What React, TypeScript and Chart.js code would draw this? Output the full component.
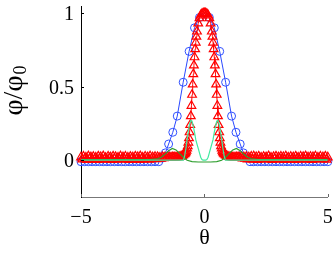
import React, { useEffect, useRef } from "react";
import { Chart, registerables } from "chart.js";

Chart.register(...registerables);

// ---- data ----
const xTicks = [-5, 0, 5];
const yTicks = [0, 0.5, 1];

const blueTheta = [
  -5, -4.85, -4.7, -4.55, -4.4, -4.25, -4.1, -3.95, -3.8, -3.65, -3.5, -3.35, -3.2, -3.05, -2.9, -2.75, -2.6, -2.45, -2.3, -2.15, -2.0, -1.85,
  -1.7, -1.58, -1.45, -1.28, -1.1, -0.86, -0.62, -0.4, -0.2, 0,
  0.2, 0.4, 0.62, 0.86, 1.1, 1.28, 1.45, 1.58, 1.7,
  1.85, 2.0, 2.15, 2.3, 2.45, 2.6, 2.75, 2.9, 3.05, 3.2, 3.35, 3.5, 3.65, 3.8, 3.95, 4.1, 4.25, 4.4, 4.55, 4.7, 4.85, 5,
];
const bluePhi = [
  -0.01, -0.01, -0.01, -0.01, -0.01, -0.01, -0.01, -0.01, -0.01, -0.01, -0.01, -0.01, -0.01, -0.01, -0.01, -0.01, -0.01, -0.01, -0.01, -0.01, -0.01, -0.01,
  0.015, 0.05, 0.11, 0.19, 0.3, 0.53, 0.74, 0.9, 0.97, 1.0,
  0.97, 0.9, 0.74, 0.53, 0.3, 0.19, 0.11, 0.05, 0.015,
  -0.01, -0.01, -0.01, -0.01, -0.01, -0.01, -0.01, -0.01, -0.01, -0.01, -0.01, -0.01, -0.01, -0.01, -0.01, -0.01, -0.01, -0.01, -0.01, -0.01, -0.01, -0.01,
];

const redTheta = [
  -5, -4.95, -4.9, -4.85, -4.8, -4.75, -4.7, -4.65, -4.6, -4.55,
  -4.5, -4.45, -4.4, -4.35, -4.3, -4.25, -4.2, -4.15, -4.1, -4.05,
  -4, -3.95, -3.9, -3.85, -3.8, -3.75, -3.7, -3.65, -3.6, -3.55,
  -3.5, -3.45, -3.4, -3.35, -3.3, -3.25, -3.2, -3.15, -3.1, -3.05,
  -3, -2.95, -2.9, -2.85, -2.8, -2.75, -2.7, -2.65, -2.6, -2.55,
  -2.5, -2.45, -2.4, -2.35, -2.3, -2.25, -2.2, -2.15, -2.1, -2.05,
  -2, -1.95, -1.9, -1.85, -1.8, -1.75, -1.7, -1.65, -1.6, -1.55,
  -1.5, -1.45, -1.4, -1.35, -1.3, -1.25,
  -1.2, -1.15, -1.1, -1.05, -1, -0.95, -0.9, -0.85, -0.8,
  -0.775, -0.75, -0.725, -0.7, -0.675, -0.65, -0.625, -0.6, -0.575, -0.55, -0.525, -0.5, -0.475, -0.45, -0.425, -0.4, -0.375, -0.35, -0.325, -0.3,
  -0.25, -0.2, -0.15, -0.1, -0.05, 0,
  0.05, 0.1, 0.15, 0.2, 0.25,
  0.3, 0.325, 0.35, 0.375, 0.4, 0.425, 0.45, 0.475, 0.5, 0.525, 0.55, 0.575, 0.6, 0.625, 0.65, 0.675, 0.7, 0.725, 0.75, 0.775,
  0.8, 0.85, 0.9, 0.95, 1, 1.05, 1.1, 1.15, 1.2,
  1.25, 1.3, 1.35, 1.4, 1.45, 1.5,
  1.55, 1.6, 1.65, 1.7, 1.75, 1.8, 1.85, 1.9, 1.95, 2,
  2.05, 2.1, 2.15, 2.2, 2.25, 2.3, 2.35, 2.4, 2.45, 2.5,
  2.55, 2.6, 2.65, 2.7, 2.75, 2.8, 2.85, 2.9, 2.95, 3,
  3.05, 3.1, 3.15, 3.2, 3.25, 3.3, 3.35, 3.4, 3.45, 3.5,
  3.55, 3.6, 3.65, 3.7, 3.75, 3.8, 3.85, 3.9, 3.95, 4,
  4.05, 4.1, 4.15, 4.2, 4.25, 4.3, 4.35, 4.4, 4.45, 4.5,
  4.55, 4.6, 4.65, 4.7, 4.75, 4.8, 4.85, 4.9, 4.95, 5,
];
const redPhi = [
  0.02, 0.006, 0.025, 0.01, 0.018, 0.003, 0.027, 0.012, 0.021, 0.005,
  0.024, 0.009, 0.019, 0.002, 0.026, 0.011, 0.022, 0.006, 0.028, 0.008,
  0.017, 0.004, 0.025, 0.013, 0.02, 0.003, 0.026, 0.009, 0.023, 0.006,
  0.018, 0.011, 0.027, 0.004, 0.021, 0.01, 0.025, 0.007, 0.019, 0.002,
  0.024, 0.012, 0.02, 0.005, 0.026, 0.009, 0.022, 0.003, 0.028, 0.01,
  0.018, 0.006, 0.025, 0.011, 0.021, 0.004, 0.027, 0.008, 0.02, 0.012,
  0.024, 0.007, 0.022, 0.013, 0.019, 0.01, 0.023, 0.014, 0.021, 0.016,
  0.022, 0.017, 0.02, 0.018, 0.021, 0.019,
  0.02, 0.02, 0.021, 0.021, 0.023, 0.026, 0.03, 0.035, 0.042,
  0.048, 0.055, 0.065, 0.08, 0.095, 0.12, 0.15, 0.19, 0.24, 0.3, 0.37, 0.445, 0.515, 0.585, 0.645, 0.7, 0.755, 0.8, 0.84, 0.875,
  0.93, 0.965, 0.985, 0.995, 1.0, 1.0,
  1.0, 0.995, 0.985, 0.965, 0.93,
  0.875, 0.84, 0.8, 0.755, 0.7, 0.645, 0.585, 0.515, 0.445, 0.37, 0.3, 0.24, 0.19, 0.15, 0.12, 0.095, 0.08, 0.065, 0.055, 0.048,
  0.042, 0.035, 0.03, 0.026, 0.023, 0.021, 0.021, 0.02, 0.02,
  0.019, 0.021, 0.018, 0.022, 0.016, 0.023,
  0.013, 0.021, 0.01, 0.024, 0.006, 0.02, 0.012, 0.025, 0.004, 0.027,
  0.009, 0.022, 0.003, 0.026, 0.011, 0.019, 0.005, 0.024, 0.013, 0.021,
  0.006, 0.028, 0.01, 0.018, 0.002, 0.023, 0.009, 0.026, 0.004, 0.02,
  0.012, 0.025, 0.007, 0.022, 0.003, 0.027, 0.011, 0.019, 0.005, 0.024,
  0.009, 0.021, 0.002, 0.026, 0.012, 0.018, 0.006, 0.025, 0.01, 0.023,
  0.004, 0.028, 0.008, 0.02, 0.011, 0.024, 0.003, 0.022, 0.009, 0.027,
  0.006, 0.019, 0.012, 0.025, 0.005, 0.021, 0.01, 0.026, 0.004, 0.02,
];

const mintTheta = [
  -5, -1, -0.9, -0.85, -0.8, -0.75, -0.7, -0.65, -0.6, -0.55, -0.5, -0.45, -0.4, -0.35, -0.3, -0.25, -0.2, -0.15, -0.1, -0.05, 0,
  0.05, 0.1, 0.15, 0.2, 0.25, 0.3, 0.35, 0.4, 0.45, 0.5, 0.55, 0.6, 0.65, 0.7, 0.75, 0.8, 0.85, 0.9, 1, 5,
];
const mintPhi = [
  0, 0, 0, 0.0, 0.03, 0.08, 0.14, 0.2, 0.245, 0.27, 0.265, 0.23, 0.19, 0.14, 0.11, 0.08, 0.05, 0.02, 0.005, 0, 0,
  0, 0.005, 0.02, 0.05, 0.08, 0.11, 0.14, 0.19, 0.23, 0.265, 0.27, 0.245, 0.2, 0.14, 0.08, 0.03, 0.0, 0, 0, 0,
];

const darkTheta = [
  -5, -2.2, -1.9, -1.75, -1.6, -1.45, -1.3, -1.15, -1.0, -0.85, -0.7, -0.5, -0.25, 0,
  0.25, 0.5, 0.7, 0.85, 1.0, 1.15, 1.3, 1.45, 1.6, 1.75, 1.9, 2.2, 5,
];
const darkPhi = [
  0.005, 0.005, 0.01, 0.02, 0.04, 0.065, 0.08, 0.07, 0.045, 0.02, 0.0, -0.01, -0.012, -0.012,
  -0.012, -0.01, 0.0, 0.02, 0.045, 0.07, 0.08, 0.065, 0.04, 0.02, 0.01, 0.005, 0.005,
];

const pts = (xs: number[], ys: number[]) => xs.map((x, i) => ({ x, y: ys[i] }));

const FONT = "'Liberation Serif', 'Times New Roman', serif";

const decor = {
  id: "decor",
  afterDraw(chart: any) {
    const ctx = chart.ctx;
    const { left, right, bottom } = chart.chartArea;
    const xs = chart.scales.x;
    const ys = chart.scales.y;
    ctx.save();
    ctx.lineWidth = 1;
    ctx.strokeStyle = "#666";
    xTicks.forEach((v) => {
      const px = Math.round(xs.getPixelForValue(v)) + 0.5;
      ctx.beginPath();
      ctx.moveTo(px, bottom);
      ctx.lineTo(px, bottom - 3);
      ctx.stroke();
    });
    ctx.strokeStyle = "#000";
    yTicks.forEach((v) => {
      const py = Math.round(ys.getPixelForValue(v)) + 0.5;
      ctx.beginPath();
      ctx.moveTo(left, py);
      ctx.lineTo(left + 3, py);
      ctx.stroke();
    });
    ctx.fillStyle = "#000";
    ctx.font = `22px ${FONT}`;
    ctx.textAlign = "center";
    ctx.textBaseline = "middle";
    ctx.fillText("θ", (left + right) / 2, 238);

    // y title
    ctx.translate(22, 91);
    ctx.rotate(-Math.PI / 2);
    ctx.textAlign = "left";
    ctx.textBaseline = "alphabetic";
    ctx.font = `28px ${FONT}`;
    const main = "φ/φ";
    const w1 = ctx.measureText(main).width;
    ctx.font = `18px ${FONT}`;
    const w2 = ctx.measureText("0").width;
    const x0 = -(w1 + w2) / 2;
    ctx.font = `28px ${FONT}`;
    ctx.fillText(main, x0, 0);
    ctx.font = `18px ${FONT}`;
    ctx.fillText("0", x0 + w1 + 1, 4);
    ctx.restore();
  },
};

export default function App() {
  const ref = useRef<HTMLCanvasElement>(null);
  useEffect(() => {
    if (!ref.current) return;
    const chart = new Chart(ref.current, {
      type: "scatter",
      data: {
        datasets: [
          {
            data: pts(mintTheta, mintPhi),
            showLine: true,
            borderColor: "#40eaa0",
            borderWidth: 1.2,
            pointRadius: 0,
            order: 0,
          },
          {
            data: pts(darkTheta, darkPhi),
            showLine: true,
            borderColor: "#2e9e2e",
            borderWidth: 1.2,
            pointRadius: 0,
            order: 1,
          },
          {
            data: pts(redTheta, redPhi),
            showLine: true,
            borderColor: "#ff0000",
            backgroundColor: "rgba(0,0,0,0)",
            borderWidth: 1,
            pointStyle: "triangle",
            pointRadius: 5,
            pointBorderColor: "#ff0000",
            pointBorderWidth: 1.2,
            clip: false,
            order: 2,
          },
          {
            data: pts(blueTheta, bluePhi),
            showLine: true,
            borderColor: "#2a48ff",
            backgroundColor: "rgba(0,0,0,0)",
            borderWidth: 1,
            pointStyle: "circle",
            pointRadius: 4,
            pointBorderColor: "#3050ff",
            pointBorderWidth: 1,
            clip: false,
            order: 3,
          },
        ] as any,
      },
      options: {
        animation: false,
        responsive: false,
        events: [],
        layout: { padding: { top: 5, right: 6, left: 0, bottom: 0 } },
        plugins: { legend: { display: false }, tooltip: { enabled: false } },
        scales: {
          x: {
            type: "linear",
            min: -5,
            max: 5,
            afterBuildTicks: (s: any) => {
              s.ticks = xTicks.map((v) => ({ value: v }));
            },
            afterFit: (s: any) => {
              s.height = 56;
              s.paddingLeft = 0;
              s.paddingRight = 0;
            },
            grid: { display: false, drawTicks: false },
            border: { display: true, color: "#777", width: 1 },
            ticks: {
              padding: 9,
              color: "#000",
              font: { family: FONT, size: 20 },
              maxRotation: 0,
              callback: (v: any) => (Number(v) < 0 ? "\u2212" + Math.abs(Number(v)) : String(v)),
            },
          },
          y: {
            type: "linear",
            min: -0.25,
            max: 1.047,
            afterBuildTicks: (s: any) => {
              s.ticks = yTicks.map((v) => ({ value: v }));
            },
            afterFit: (s: any) => {
              s.width = 81;
              s.paddingTop = 0;
              s.paddingBottom = 0;
            },
            grid: { display: false, drawTicks: false },
            border: { display: true, color: "#000", width: 1 },
            ticks: {
              padding: 7,
              labelOffset: 2,
              color: "#000",
              font: { family: FONT, size: 20 },
              callback: (v: any) => String(v),
            },
          },
        },
      },
      plugins: [decor],
    });
    return () => chart.destroy();
  }, []);
  return (
    <div style={{ position: "absolute", left: 0, top: 0, width: 334, height: 253, background: "#fff" }}>
      <canvas ref={ref} width={334} height={253} style={{ width: 334, height: 253 }} />
    </div>
  );
}
